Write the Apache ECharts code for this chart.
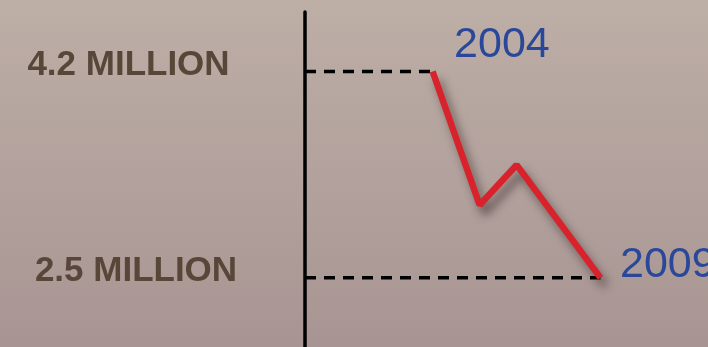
<!DOCTYPE html>
<html>
<head>
<meta charset="utf-8">
<script src="https://cdn.jsdelivr.net/npm/echarts@6/dist/echarts.min.js"></script>
<style>html,body{margin:0;padding:0;}#c{width:708px;height:347px;}</style>
</head>
<body>
<div id="c"></div>
<script>
// Data
const years = [2004, 2005.4, 2006.5, 2009];
const valuesMillion = [4.2, 3.1, 3.43, 2.5];
const tickValues = [2.5, 4.2];
const tickLabels = ['2.5 MILLION', '4.2 MILLION'];
const endLabels = ['2004', '2009'];

const X_MIN = 2000.2, X_MAX = 2012.2;
const Y_MIN = 1.93, Y_MAX = 4.69;

const chart = echarts.init(document.getElementById('c'), null, {renderer: 'canvas'});

const mainData = years.map((y, i) => {
  const item = {value: [y, valuesMillion[i]]};
  if (i === 0) {
    item.label = {show: true, formatter: endLabels[0], position: 'right', distance: 21, offset: [0, -26]};
  } else if (i === years.length - 1) {
    item.label = {show: true, formatter: endLabels[1], position: 'right', distance: 19, offset: [0, -13]};
  }
  return item;
});

const guideTop = [[X_MIN, valuesMillion[0]], [years[0], valuesMillion[0]]];
const guideBottom = [[X_MIN, valuesMillion[valuesMillion.length - 1]], [years[years.length - 1], valuesMillion[valuesMillion.length - 1]]];

const dashStyle = {color: '#000', width: 3.5, type: [11, 8]};

chart.setOption({
  animation: false,
  backgroundColor: {
    type: 'linear', x: 0, y: 0, x2: 0, y2: 1,
    colorStops: [{offset: 0, color: '#bdaea6'}, {offset: 1, color: '#a89593'}]
  },
  grid: {left: 305, top: 12, width: 405.6, height: 335, containLabel: false},
  xAxis: {type: 'value', min: X_MIN, max: X_MAX, show: false},
  yAxis: {
    type: 'value', min: Y_MIN, max: Y_MAX,
    axisLine: {show: true, lineStyle: {color: '#000', width: 3.5}},
    axisTick: {show: false},
    splitLine: {show: false},
    axisLabel: {
      customValues: tickValues,
      align: 'center',
      margin: 173,
      formatter: function (v) {
        const idx = tickValues.findIndex(t => Math.abs(t - v) < 1e-6);
        if (idx < 0) return '';
        return (idx === 1 ? '{a|' : '{b|') + tickLabels[idx] + '}';
      },
      rich: {
        a: {fontFamily: 'Liberation Sans', fontWeight: 'bold', fontSize: 35, color: '#584739', padding: [0, 7, 12, 0]},
        b: {fontFamily: 'Liberation Sans', fontWeight: 'bold', fontSize: 35, color: '#584739', padding: [0, 0, 12, 8]}
      }
    }
  },
  series: [
    {type: 'line', data: guideTop, symbol: 'none', lineStyle: dashStyle, silent: true, z: 1},
    {type: 'line', data: guideBottom, symbol: 'none', lineStyle: dashStyle, silent: true, z: 1},
    {
      type: 'line', data: mainData, symbol: 'circle', symbolSize: 1, showSymbol: true, z: 3,
      itemStyle: {color: 'rgba(0,0,0,0)', borderWidth: 0},
      lineStyle: {color: '#d8232d', width: 6.5, shadowColor: 'rgba(40,25,25,0.55)', shadowBlur: 10, shadowOffsetX: 5, shadowOffsetY: 8},
      label: {show: false, fontFamily: 'Liberation Sans', fontSize: 43, color: '#2a4899'}
    }
  ]
});
</script>
</body>
</html>
